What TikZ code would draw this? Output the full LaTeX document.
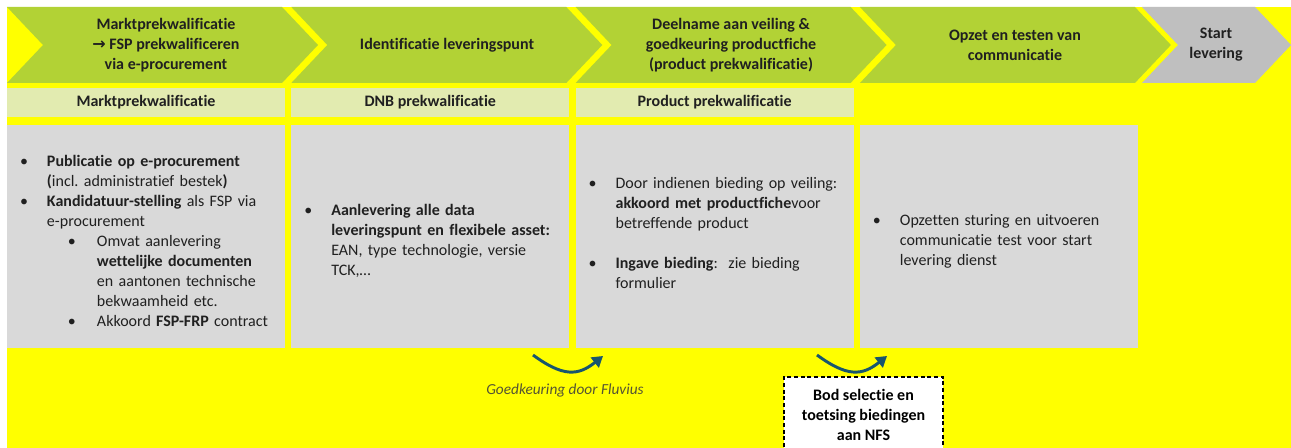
\documentclass[tikz,border=0pt]{standalone}
\usepackage{fontspec}
\setmainfont{Carlito}[Ligatures=NoCommon]
\newfontfamily\arrowfont{DejaVu Sans}
\usepackage{enumitem}
\usetikzlibrary{arrows.meta}

\definecolor{bgyellow}{RGB}{255,255,0}
\definecolor{phasegreen}{RGB}{178,210,53}
\definecolor{subgreen}{RGB}{226,235,176}
\definecolor{boxgrey}{RGB}{217,217,217}
\definecolor{endgrey}{RGB}{191,191,191}
\definecolor{arrowteal}{RGB}{24,86,110}
\definecolor{txtdark}{RGB}{32,32,32}
\definecolor{notegrey}{RGB}{84,84,52}

% lists used in the grey cells
\newlist{steps}{itemize}{2}
\setlist[steps,1]{label=\textbullet, leftmargin=30pt, labelindent=9.75pt, labelwidth=20.25pt,
  labelsep=0pt, align=left, itemsep=0pt, topsep=0pt, parsep=0pt, partopsep=0pt}
\setlist[steps,2]{label=\textbullet, leftmargin=37.5pt, labelindent=15.75pt, labelwidth=21.75pt,
  labelsep=0pt, align=left, itemsep=0pt, topsep=0pt, parsep=0pt, partopsep=0pt}

\tikzset{
  phasetext/.style={font=\fontsize{12}{15}\selectfont\bfseries, align=center},
  subbox/.style={fill=subgreen, minimum width=208.5pt, minimum height=21.75pt, inner sep=0pt,
    font=\fontsize{12}{14}\selectfont\bfseries},
  cellbox/.style={fill=boxgrey, minimum width=208.5pt, minimum height=167.25pt, inner sep=0pt},
  bodytext/.style={font=\fontsize{12}{15}\selectfont, text width=215pt, align=left,
    anchor=west, inner sep=0pt},
  notetext/.style={font=\fontsize{11.5}{14}\selectfont\itshape, text=notegrey},
  bidbox/.style={draw=black, fill=white, line width=0.8pt, dash pattern=on 3pt off 2pt,
    minimum width=119.25pt, minimum height=57pt, align=center, text=black,
    font=\fontsize{12}{15}\selectfont\bfseries},
  flowarrow/.style={draw=arrowteal, line width=2.2pt, -{Triangle[length=8pt,width=9.5pt]}},
}

\begin{document}
\begin{tikzpicture}[x=0.75pt, y=-0.75pt, every node/.style={text=txtdark}]
  \def\pitch{284.3} % column pitch
  \def\colw{278}    % column width
  \def\tipd{36}     % depth of the chevron point

  % --- canvas and yellow background
  \fill[white] (0,0) rectangle (1291,448);
  \useasboundingbox (0,0) rectangle (1291,448);
  \fill[bgyellow] (7,7) rectangle (1291,448);

  % --- phase chevrons
  \foreach \i in {0,...,3}{
    \pgfmathsetmacro\l{7+\i*\pitch}
    \pgfmathsetmacro\r{\l+\colw-3}
    \fill[phasegreen] (\l,7) -- (\r,7) -- (\r+\tipd,45) -- (\r,83) -- (\l,83) -- (\l+\tipd,45) -- cycle;
  }
  \fill[endgrey] (1142,7) -- (1255,7) -- (1291,45) -- (1255,83) -- (1142,83) -- (1178,45) -- cycle;

  % --- phase titles
  \node[phasetext] (ph1) at (166,45) {Marktprekwalificatie\\{\arrowfont →} FSP prekwalificeren\\via e-procurement};
  \node[phasetext] (ph2) at (447,45) {Identificatie leveringspunt};
  \node[phasetext] (ph3) at (731,45) {Deelname aan veiling \&\\goedkeuring productfiche\\(product prekwalificatie)};
  \node[phasetext] (ph4) at (1015,45) {Opzet en testen van\\communicatie};
  \node[phasetext] (ph5) at (1216,45) {Start\\levering};

  % --- sub headers
  \node[subbox] (sub1) at (146,102.5) {Marktprekwalificatie};
  \node[subbox] (sub2) at (430.3,102.5) {DNB prekwalificatie};
  \node[subbox] (sub3) at (714.6,102.5) {Product prekwalificatie};

  % --- grey cells
  \node[cellbox] (cell1) at (146,236.5) {};
  \node[cellbox] (cell2) at (430.3,236.5) {};
  \node[cellbox] (cell3) at (714.6,236.5) {};
  \node[cellbox] (cell4) at (998.9,236.5) {};

  \node[bodytext] (txt1) at (cell1.west) {%
    \begin{steps}
      \item \textbf{Publicatie op e-procurement}\\\textbf{(}incl.\ administratief bestek\textbf{)}
      \item \textbf{Kandidatuur-stelling} als FSP via\\e-procurement
      \begin{steps}
        \item Omvat aanlevering\\\textbf{wettelijke documenten}\\en aantonen technische\\bekwaamheid etc.
        \item Akkoord \textbf{FSP-FRP} contract
      \end{steps}
    \end{steps}};
  \node[bodytext] (txt2) at (cell2.west) {%
    \begin{steps}
      \item \textbf{Aanlevering alle data}\\\textbf{leveringspunt en flexibele asset:}\\EAN, type technologie, versie\\TCK,…
    \end{steps}};
  \node[bodytext] (txt3) at ([yshift=6pt]cell3.west) {%
    \begin{steps}[itemsep=15pt]
      \item Door indienen bieding op veiling:\\\textbf{akkoord met productfiche}voor\\betreffende product
      \item \textbf{Ingave bieding}:\ \ zie bieding\\formulier
    \end{steps}};
  \node[bodytext] (txt4) at (cell4.west) {%
    \begin{steps}
      \item Opzetten sturing en uitvoeren\\communicatie test voor start\\levering dienst
    \end{steps}};

  % --- approval arrows and notes
  \coordinate (gkfrom) at (533,355);
  \coordinate (gkto) at (603,356);
  \draw[flowarrow] (gkfrom) .. controls +(30,22) and +(-25,20) .. (gkto);
  \node[notetext] (gk) at (565,390) {Goedkeuring door Fluvius};

  \coordinate (bodfrom) at (817,355);
  \coordinate (bodto) at (887,356);
  \draw[flowarrow] (bodfrom) .. controls +(30,22) and +(-25,20) .. (bodto);
  \node[bidbox] (bod) at (863.5,415) {Bod selectie en\\toetsing biedingen\\aan NFS};
\end{tikzpicture}
\end{document}
